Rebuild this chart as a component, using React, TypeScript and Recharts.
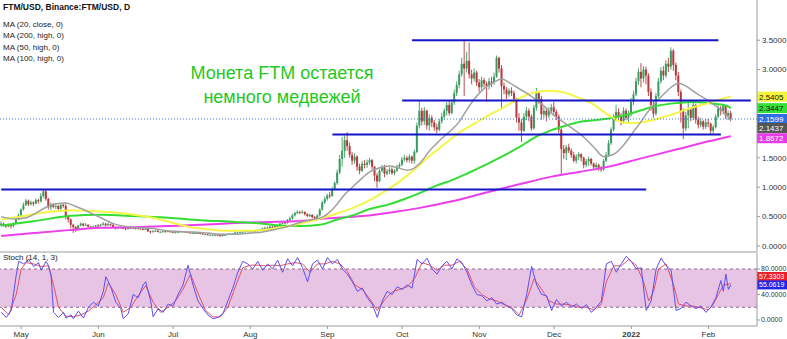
import React from "react";
import { Bar, ComposedChart, Line, ReferenceArea, ReferenceLine, XAxis, YAxis } from "recharts";

// daily candles, FTM/USD, from 2021-04-23
const START = Date.UTC(2021, 3, 23);
const DAYS = 304; // includes empty space at the right edge

const firstOpen = 0.36;
const closes = [
	0.38, 0.35, 0.33, 0.36, 0.34, 0.38, 0.45, 0.52, 0.62, 0.70,
	0.77, 0.71, 0.74, 0.72, 0.78, 0.76, 0.85, 0.93, 0.80, 0.66,
	0.70, 0.67, 0.68, 0.63, 0.70, 0.68, 0.50, 0.45, 0.36, 0.32,
	0.29, 0.35, 0.38, 0.35, 0.36, 0.33, 0.31, 0.33, 0.35, 0.34,
	0.36, 0.38, 0.35, 0.37, 0.36, 0.32, 0.30, 0.32, 0.31, 0.30,
	0.29, 0.31, 0.30, 0.31, 0.29, 0.30, 0.29, 0.28, 0.29, 0.25,
	0.24, 0.25, 0.26, 0.24, 0.24, 0.25, 0.24, 0.25, 0.24, 0.23,
	0.23, 0.24, 0.25, 0.24, 0.24, 0.23, 0.22, 0.22, 0.22, 0.22,
	0.21, 0.20, 0.20, 0.19, 0.19, 0.19, 0.19, 0.18, 0.17, 0.19,
	0.19, 0.20, 0.21, 0.21, 0.23, 0.23, 0.24, 0.24, 0.25, 0.25,
	0.24, 0.25, 0.25, 0.27, 0.28, 0.30, 0.31, 0.30, 0.33, 0.32,
	0.35, 0.34, 0.38, 0.40, 0.39, 0.44, 0.47, 0.52, 0.56, 0.58,
	0.57, 0.58, 0.54, 0.51, 0.53, 0.49, 0.47, 0.52, 0.62, 0.74,
	0.80, 0.86, 0.85, 0.97, 1.07, 1.25, 1.48, 1.62, 1.80, 1.70,
	1.55, 1.45, 1.52, 1.35, 1.28, 1.40, 1.38, 1.42, 1.46, 1.35,
	1.20, 1.10, 1.28, 1.34, 1.23, 1.27, 1.30, 1.24, 1.28, 1.35,
	1.38, 1.47, 1.50, 1.46, 1.52, 1.45, 1.60, 2.05, 2.30, 2.12,
	2.30, 2.05, 2.18, 2.10, 2.02, 1.98, 2.12, 2.20, 2.30, 2.40,
	2.26, 2.44, 2.60, 2.74, 2.92, 3.10, 3.02, 3.15, 2.92, 2.85,
	2.95, 2.78, 2.70, 2.82, 2.76, 2.72, 2.80, 2.78, 2.88, 3.20,
	3.02, 2.72, 2.66, 2.58, 2.64, 2.60, 2.50, 2.18, 2.10, 1.96,
	2.20, 2.30, 2.20, 2.00, 2.35, 2.60, 2.50, 2.24, 2.30, 2.22,
	2.30, 2.36, 2.28, 2.20, 1.98, 1.65, 1.58, 1.68, 1.62, 1.55,
	1.45, 1.52, 1.56, 1.50, 1.38, 1.44, 1.48, 1.40, 1.34, 1.38,
	1.33, 1.30, 1.45, 1.55, 1.75, 1.98, 2.18, 2.28, 2.20, 2.12,
	2.30, 2.18, 2.24, 2.45, 2.58, 2.80, 2.96, 2.85, 3.00, 2.90,
	2.62, 2.40, 2.25, 2.55, 2.80, 2.98, 2.90, 3.10, 3.05, 3.32,
	3.08, 2.90, 2.62, 2.30, 2.00, 2.22, 2.32, 2.18, 2.40, 2.15,
	2.06, 2.12, 2.03, 2.10, 2.08, 1.96, 2.02, 2.20, 2.34, 2.30,
	2.38, 2.22, 2.26, 2.16,
];
const highs = [
	0.42, 0.40, 0.37, 0.38, 0.37, 0.40, 0.47, 0.55, 0.64, 0.74,
	0.80, 0.79, 0.77, 0.76, 0.81, 0.80, 0.90, 0.97, 0.96, 0.82,
	0.74, 0.73, 0.72, 0.70, 0.73, 0.72, 0.72, 0.53, 0.47, 0.38,
	0.34, 0.36, 0.40, 0.39, 0.39, 0.37, 0.34, 0.35, 0.36, 0.37,
	0.38, 0.41, 0.39, 0.40, 0.38, 0.37, 0.33, 0.33, 0.33, 0.32,
	0.31, 0.32, 0.32, 0.32, 0.31, 0.31, 0.31, 0.30, 0.30, 0.29,
	0.26, 0.27, 0.27, 0.27, 0.25, 0.26, 0.26, 0.26, 0.26, 0.25,
	0.24, 0.25, 0.26, 0.25, 0.25, 0.25, 0.24, 0.23, 0.23, 0.23,
	0.23, 0.22, 0.21, 0.21, 0.20, 0.20, 0.20, 0.19, 0.19, 0.20,
	0.20, 0.21, 0.22, 0.22, 0.25, 0.24, 0.25, 0.25, 0.26, 0.26,
	0.26, 0.26, 0.26, 0.28, 0.29, 0.31, 0.33, 0.33, 0.34, 0.34,
	0.36, 0.36, 0.39, 0.42, 0.42, 0.46, 0.50, 0.55, 0.58, 0.61,
	0.60, 0.61, 0.59, 0.56, 0.55, 0.54, 0.51, 0.54, 0.64, 0.77,
	0.84, 0.89, 0.92, 1.00, 1.10, 1.30, 1.55, 1.85, 1.88, 1.94,
	1.76, 1.60, 1.58, 1.54, 1.40, 1.45, 1.46, 1.47, 1.50, 1.48,
	1.36, 1.24, 1.31, 1.38, 1.38, 1.31, 1.34, 1.34, 1.31, 1.38,
	1.42, 1.52, 1.55, 1.53, 1.56, 1.54, 1.64, 2.10, 2.48, 2.35,
	2.36, 2.32, 2.24, 2.22, 2.14, 2.08, 2.16, 2.26, 2.34, 2.45,
	2.48, 2.48, 2.66, 2.80, 2.98, 3.20, 3.49, 3.30, 3.46, 3.00,
	3.02, 2.98, 2.84, 2.88, 2.86, 2.80, 2.86, 2.88, 2.95, 3.24,
	3.22, 3.08, 2.78, 2.70, 2.68, 2.70, 2.64, 2.52, 2.26, 2.16,
	2.26, 2.36, 2.34, 2.24, 2.40, 2.69, 2.64, 2.55, 2.36, 2.33,
	2.36, 2.42, 2.45, 2.32, 2.24, 2.00, 1.72, 1.72, 1.74, 1.66,
	1.60, 1.56, 1.60, 1.58, 1.52, 1.48, 1.52, 1.50, 1.42, 1.42,
	1.40, 1.36, 1.48, 1.60, 1.80, 2.02, 2.24, 2.40, 2.34, 2.26,
	2.36, 2.34, 2.30, 2.52, 2.64, 2.86, 3.02, 3.11, 3.06, 3.05,
	2.94, 2.68, 2.48, 2.60, 2.86, 3.04, 3.06, 3.16, 3.20, 3.38,
	3.35, 3.12, 2.96, 2.66, 2.34, 2.28, 2.44, 2.36, 2.46, 2.42,
	2.20, 2.18, 2.14, 2.16, 2.16, 2.10, 2.06, 2.24, 2.40, 2.38,
	2.42, 2.40, 2.30, 2.30,
];
const lows = [
	0.33, 0.33, 0.31, 0.32, 0.30, 0.32, 0.37, 0.44, 0.50, 0.60,
	0.68, 0.68, 0.69, 0.68, 0.71, 0.72, 0.74, 0.82, 0.77, 0.62,
	0.61, 0.64, 0.63, 0.61, 0.62, 0.65, 0.45, 0.40, 0.30, 0.22,
	0.24, 0.28, 0.33, 0.33, 0.34, 0.31, 0.29, 0.30, 0.32, 0.32,
	0.33, 0.35, 0.33, 0.34, 0.34, 0.31, 0.28, 0.29, 0.30, 0.29,
	0.27, 0.28, 0.29, 0.29, 0.28, 0.28, 0.28, 0.27, 0.27, 0.24,
	0.21, 0.23, 0.24, 0.23, 0.23, 0.23, 0.23, 0.24, 0.23, 0.22,
	0.22, 0.22, 0.23, 0.23, 0.23, 0.22, 0.21, 0.21, 0.21, 0.21,
	0.20, 0.19, 0.19, 0.18, 0.18, 0.18, 0.18, 0.17, 0.16, 0.16,
	0.18, 0.19, 0.20, 0.20, 0.21, 0.21, 0.22, 0.23, 0.23, 0.24,
	0.23, 0.23, 0.24, 0.24, 0.26, 0.27, 0.29, 0.29, 0.29, 0.31,
	0.31, 0.32, 0.33, 0.37, 0.37, 0.38, 0.42, 0.45, 0.50, 0.54,
	0.54, 0.55, 0.52, 0.49, 0.49, 0.47, 0.45, 0.46, 0.50, 0.60,
	0.71, 0.77, 0.81, 0.84, 0.95, 1.04, 1.22, 1.35, 1.50, 1.62,
	1.50, 1.38, 1.40, 1.28, 1.22, 1.26, 1.32, 1.33, 1.38, 1.30,
	1.10, 0.99, 1.08, 1.25, 1.17, 1.20, 1.22, 1.21, 1.20, 1.26,
	1.31, 1.36, 1.44, 1.42, 1.42, 1.40, 1.40, 1.58, 2.00, 2.05,
	2.06, 1.98, 1.96, 2.02, 1.96, 1.92, 1.95, 2.08, 2.15, 2.22,
	2.22, 2.24, 2.40, 2.55, 2.68, 2.88, 2.55, 2.95, 2.85, 2.75,
	2.80, 2.72, 2.62, 2.66, 2.70, 2.45, 2.66, 2.70, 2.74, 2.86,
	2.95, 2.35, 2.58, 2.50, 2.54, 2.55, 2.44, 2.10, 1.96, 1.77,
	1.94, 2.14, 2.12, 1.96, 1.98, 2.30, 2.42, 2.15, 2.18, 2.12,
	2.18, 2.24, 2.22, 2.14, 1.92, 1.20, 1.48, 1.46, 1.58, 1.50,
	1.42, 1.40, 1.46, 1.44, 1.32, 1.34, 1.36, 1.37, 1.30, 1.30,
	1.28, 1.26, 1.28, 1.43, 1.52, 1.72, 1.95, 2.12, 2.14, 2.05,
	2.08, 2.14, 2.10, 2.20, 2.40, 2.55, 2.74, 2.70, 2.78, 2.75,
	2.55, 2.30, 2.18, 2.22, 2.52, 2.76, 2.82, 2.86, 2.96, 3.00,
	2.98, 2.82, 2.55, 2.10, 1.82, 1.95, 2.00, 2.12, 2.14, 2.08,
	2.00, 2.02, 1.98, 1.99, 2.02, 1.90, 1.89, 2.00, 2.18, 2.22,
	2.24, 2.16, 2.14, 2.12,
];

// moving averages: [day index, value]
const ma20Points = [
	[0, 0.5], [5, 0.46], [10, 0.48], [14, 0.56], [18, 0.66], [22, 0.72], [26, 0.73], [29, 0.69],
	[33, 0.62], [37, 0.54], [41, 0.46], [45, 0.38], [50, 0.33], [55, 0.31], [60, 0.3], [65, 0.27],
	[70, 0.25], [75, 0.24], [80, 0.23], [85, 0.21], [90, 0.2], [95, 0.2], [100, 0.22], [105, 0.24],
	[110, 0.28], [115, 0.33], [120, 0.4], [125, 0.45], [129, 0.49], [132, 0.58], [135, 0.72],
	[138, 0.88], [141, 1.0], [144, 1.12], [148, 1.26], [152, 1.33], [156, 1.36], [160, 1.32],
	[163, 1.29], [166, 1.33], [169, 1.45], [172, 1.62], [175, 1.75], [178, 1.87], [181, 1.98],
	[184, 2.12], [187, 2.32], [190, 2.5], [194, 2.68], [198, 2.79], [201, 2.84], [204, 2.78],
	[207, 2.7], [211, 2.6], [215, 2.48], [218, 2.38], [222, 2.22], [226, 2.1], [230, 1.98],
	[234, 1.85], [238, 1.68], [242, 1.52], [246, 1.56], [250, 1.72], [254, 1.95], [257, 2.12],
	[260, 2.3], [263, 2.45], [266, 2.58], [269, 2.7], [272, 2.77], [275, 2.72], [279, 2.6],
	[283, 2.5], [287, 2.38], [290, 2.28], [293, 2.1437],
];
const ma50Points = [
	[0, 0.45], [8, 0.5], [14, 0.55], [22, 0.59], [28, 0.61], [35, 0.6], [42, 0.58], [50, 0.55],
	[58, 0.5], [64, 0.45], [70, 0.38], [76, 0.32], [82, 0.29], [90, 0.26], [98, 0.26], [105, 0.27],
	[112, 0.31], [118, 0.36], [124, 0.42], [130, 0.49], [136, 0.57], [142, 0.66], [148, 0.78],
	[154, 0.93], [160, 1.1], [166, 1.3], [172, 1.53], [178, 1.73], [184, 1.93], [190, 2.08],
	[196, 2.23], [202, 2.36], [208, 2.51], [214, 2.61], [220, 2.64], [226, 2.61], [232, 2.52],
	[237, 2.43], [242, 2.28], [246, 2.17], [250, 2.1], [254, 2.09], [258, 2.11], [264, 2.17],
	[271, 2.26], [277, 2.35], [284, 2.43], [290, 2.51], [293, 2.5405],
];
const ma100Points = [
	[0, 0.35], [13, 0.42], [27, 0.51], [40, 0.53], [53, 0.51], [67, 0.48], [80, 0.44], [94, 0.41],
	[105, 0.38], [112, 0.35], [120, 0.34], [128, 0.36], [135, 0.45], [141, 0.52], [148, 0.63],
	[155, 0.7], [162, 0.8], [168, 0.9], [175, 1.03], [181, 1.12], [188, 1.25], [194, 1.37],
	[201, 1.52], [208, 1.68], [214, 1.84], [221, 1.97], [227, 2.05], [232, 2.11], [238, 2.14],
	[244, 2.17], [251, 2.23], [257, 2.31], [264, 2.39], [271, 2.43], [278, 2.45], [284, 2.43],
	[291, 2.39], [293, 2.3447],
];
const ma200Points = [
	[0, 0.17], [13, 0.22], [27, 0.27], [40, 0.31], [53, 0.32], [67, 0.34], [80, 0.36], [94, 0.39],
	[107, 0.41], [118, 0.42], [131, 0.47], [145, 0.51], [158, 0.58], [167, 0.64], [181, 0.76],
	[194, 0.9], [208, 1.05], [221, 1.18], [232, 1.26], [244, 1.35], [257, 1.49], [271, 1.64],
	[284, 1.78], [293, 1.8672],
];

// Stoch (14, 1, 3): [day index, value]
const stochK = [
	[0, 12], [2, 4], [4, 15], [6, 70], [7, 92], [9, 88], [11, 95], [13, 84], [15, 90], [16, 78],
	[18, 92], [19, 85], [20, 70], [21, 12], [23, 4], [25, 12], [26, 3], [28, 8], [29, 2], [31, 14],
	[33, 3], [35, 20], [37, 28], [39, 22], [41, 45], [42, 68], [44, 52], [46, 28], [48, 18], [49, 2],
	[51, 10], [53, 40], [55, 35], [57, 55], [58, 60], [60, 30], [61, 5], [63, 18], [65, 12], [67, 25],
	[69, 22], [71, 40], [73, 55], [75, 86], [77, 55], [79, 30], [81, 18], [83, 8], [85, 2], [87, 4],
	[89, 10], [91, 30], [93, 50], [95, 75], [97, 92], [99, 88], [101, 80], [103, 92], [105, 78],
	[107, 88], [109, 80], [111, 94], [113, 75], [115, 96], [117, 85], [119, 98], [121, 82], [123, 60],
	[125, 88], [127, 94], [129, 80], [131, 98], [133, 88], [135, 95], [137, 80], [139, 72], [141, 60],
	[143, 45], [145, 50], [147, 35], [149, 25], [151, 4], [153, 30], [155, 45], [157, 40], [159, 52],
	[161, 48], [163, 55], [165, 50], [167, 95], [169, 88], [171, 97], [173, 80], [175, 72], [177, 85],
	[179, 92], [181, 80], [183, 96], [185, 90], [187, 75], [189, 55], [191, 40], [193, 38], [195, 30],
	[197, 35], [199, 25], [201, 28], [203, 22], [205, 18], [207, 8], [209, 5], [211, 40], [213, 84],
	[215, 55], [217, 40], [219, 38], [221, 15], [223, 32], [225, 22], [227, 28], [229, 20], [231, 25],
	[233, 18], [235, 24], [237, 12], [239, 20], [241, 30], [243, 88], [245, 92], [247, 75], [249, 88],
	[251, 100], [253, 92], [255, 80], [257, 82], [259, 15], [261, 30], [263, 80], [265, 97], [267, 85],
	[269, 78], [271, 15], [273, 18], [275, 28], [277, 22], [279, 18], [281, 22], [283, 12], [285, 20],
	[287, 35], [289, 62], [290, 45], [291, 72], [292, 48], [293, 55.0619],
];
const stochD = [
	[0, 20], [3, 8], [6, 40], [8, 80], [10, 90], [13, 88], [16, 84], [19, 85], [21, 55], [23, 20],
	[26, 6], [29, 5], [32, 8], [35, 14], [38, 24], [41, 35], [43, 58], [46, 40], [49, 12], [52, 20],
	[55, 38], [58, 54], [61, 28], [64, 12], [67, 20], [70, 30], [73, 48], [76, 72], [79, 42], [82, 15],
	[85, 5], [88, 5], [91, 20], [94, 52], [97, 82], [100, 86], [103, 86], [106, 85], [109, 86],
	[112, 85], [115, 88], [118, 90], [121, 88], [124, 75], [127, 88], [130, 88], [133, 92], [136, 88],
	[139, 76], [142, 55], [145, 48], [148, 33], [151, 15], [154, 32], [157, 44], [160, 48], [163, 52],
	[166, 65], [169, 90], [172, 86], [175, 78], [178, 86], [181, 86], [184, 92], [187, 80], [190, 52],
	[193, 40], [196, 33], [199, 30], [202, 24], [205, 20], [208, 8], [211, 32], [214, 65], [217, 48],
	[220, 30], [223, 25], [226, 25], [229, 23], [232, 20], [235, 20], [238, 16], [241, 25], [243, 60],
	[246, 85], [249, 85], [252, 95], [255, 86], [258, 60], [260, 30], [262, 45], [264, 80], [267, 88],
	[270, 55], [272, 25], [275, 22], [278, 22], [281, 19], [284, 16], [286, 25], [288, 40], [290, 55],
	[292, 56], [293, 57.3303],
];

// horizontal levels drawn on the chart
const levelPrices = [3.5, 2.474, 1.896, 0.961];
const levelFrom = [165, 161, 133, 0];
const levelTo = [288, 301, 289, 259];

const monthTicks = [
	"2021-05-01", "2021-06-01", "2021-07-01", "2021-08-01", "2021-09-01",
	"2021-10-01", "2021-11-01", "2021-12-01", "2022-01-01", "2022-02-01",
];
const monthLabels = ["May", "Jun", "Jul", "Aug", "Sep", "Oct", "Nov", "Dec", "2022", "Feb"];

const priceTicks = [0, 0.5, 1, 1.5, 3, 3.5];
const stochTicks = [0, 40, 80];

const lastPrice = 2.1599;
const priceTagValues = [2.5405, 2.3447, 2.1437, 1.8672];
const priceTagStyles = [
	{ bg: "#f4f43a", fg: "#111", shift: 0 },
	{ bg: "#35e035", fg: "#111", shift: 0 },
	{ bg: "#555555", fg: "#fff", shift: 8 },
	{ bg: "#e63ce6", fg: "#fff", shift: 2 },
];
const stochTagValues = [57.3303, 55.0619];
const stochTagStyles = [
	{ bg: "#e8202a", fg: "#fff", shift: -7, size: 7, h: 9 },
	{ bg: "#2525e6", fg: "#fff", shift: 0, size: 7, h: 9 },
];

const UP = "#3a9b60";
const DOWN = "#b5393c";
const LEVEL = "#1414c8";
const FONT = "'Liberation Sans', Arial, sans-serif";

const dates = Array.from({ length: DAYS }, (_, i) =>
	new Date(START + i * 86400000).toISOString().slice(0, 10),
);

const rows: any[] = dates.map((date, i) => {
	const has = i < closes.length;
	return {
		date,
		o: has ? (i === 0 ? firstOpen : closes[i - 1]) : null,
		h: has ? highs[i] : null,
		l: has ? lows[i] : null,
		c: has ? closes[i] : null,
		range: has ? [lows[i], highs[i]] : null,
		ma20: null,
		ma50: null,
		ma100: null,
		ma200: null,
		k: null,
		d: null,
	};
});
const fill = (key: string, pts: number[][]) => {
	for (const [i, v] of pts) rows[i][key] = v;
};
fill("ma20", ma20Points);
fill("ma50", ma50Points);
fill("ma100", ma100Points);
fill("ma200", ma200Points);
fill("k", stochK);
fill("d", stochD);

function Candle(props: any) {
	const { x, y, width, height, payload } = props;
	if (!payload || payload.o == null || !Number.isFinite(y)) return null;
	const { o, h, l, c } = payload;
	const k = height / Math.max(h - l, 1e-6);
	const yOf = (v: number) => y + (h - v) * k;
	const color = c >= o ? UP : DOWN;
	const cx = x + width / 2;
	const top = yOf(Math.max(o, c));
	const bot = yOf(Math.min(o, c));
	const bw = Math.max(1.6, width);
	return (
		<g>
			<line x1={cx} x2={cx} y1={y} y2={y + height} stroke={color} strokeWidth={0.9} />
			<rect x={cx - bw / 2} y={top} width={bw} height={Math.max(0.9, bot - top)} fill={color} />
		</g>
	);
}

function Tag({ viewBox, text, bg, fg, shift, size = 8, h = 10 }: any) {
	if (!viewBox) return null;
	const x = viewBox.x + viewBox.width;
	const y = viewBox.y + shift;
	return (
		<g>
			<rect x={x} y={y - h / 2} width={31} height={h} fill={bg} />
			<text x={x + 2} y={y + size * 0.36} fontSize={size} fill={fg} fontFamily={FONT}>
				{text}
			</text>
		</g>
	);
}

function MonthTick({ x, y, payload }: any) {
	const idx = monthTicks.indexOf(payload.value);
	const label = monthLabels[idx] ?? "";
	return (
		<text
			x={x}
			y={y + 6}
			textAnchor="middle"
			fontSize={8}
			fill="#333"
			fontFamily={FONT}
			fontWeight={label === "2022" ? "bold" : "normal"}
		>
			{label}
		</text>
	);
}

const axisStroke = "#9a9a9a";
const yTick = { fontSize: 8, fill: "#333", fontFamily: FONT };
const stochTick = { fontSize: 7, fill: "#333", fontFamily: FONT };

export default function App() {
	return (
		<div
			style={{
				position: "absolute",
				left: 0,
				top: 0,
				width: 787,
				height: 339,
				background: "#fff",
				overflow: "hidden",
				fontFamily: FONT,
			}}
		>
			<ComposedChart width={787} height={253} data={rows} margin={{ top: 0, right: 0, bottom: 0, left: 0 }}>
				<XAxis
					dataKey="date"
					scale="band"
					tick={false}
					tickLine={false}
					height={1}
					axisLine={{ stroke: axisStroke }}
				/>
				<YAxis
					orientation="right"
					width={30}
					type="number"
					domain={[-0.102, 4.184]}
					allowDataOverflow
					ticks={priceTicks}
					tickFormatter={(v: number) => v.toFixed(4)}
					tick={yTick}
					tickSize={3}
					tickMargin={2}
					axisLine={{ stroke: axisStroke }}
					tickLine={{ stroke: axisStroke }}
				/>
				<Bar dataKey="range" barSize={2} shape={<Candle />} isAnimationActive={false} />
				<Line type="monotone" dataKey="ma200" stroke="#ec3fec" strokeWidth={2} dot={false} activeDot={false} connectNulls isAnimationActive={false} />
				<Line type="monotone" dataKey="ma100" stroke="#33dd33" strokeWidth={2} dot={false} activeDot={false} connectNulls isAnimationActive={false} />
				<Line type="monotone" dataKey="ma50" stroke="#f5f545" strokeWidth={2} dot={false} activeDot={false} connectNulls isAnimationActive={false} />
				<Line type="monotone" dataKey="ma20" stroke="#a0a0a0" strokeWidth={1.5} dot={false} activeDot={false} connectNulls isAnimationActive={false} />
				{levelPrices.map((p, i) => (
					<ReferenceLine
						key={`lvl-${i}`}
						segment={[
							{ x: dates[levelFrom[i]], y: p },
							{ x: dates[levelTo[i]], y: p },
						]}
						stroke={LEVEL}
						strokeWidth={2}
					/>
				))}
				<ReferenceLine
					y={lastPrice}
					stroke="#3b6fe0"
					strokeDasharray="1 2"
					label={<Tag text={lastPrice.toFixed(4)} bg="#2f6de0" fg="#fff" shift={0} />}
				/>
				{priceTagValues.map((v, i) => (
					<ReferenceLine
						key={`tag-${i}`}
						y={v}
						stroke="none"
						label={<Tag text={v.toFixed(4)} {...priceTagStyles[i]} />}
					/>
				))}
			</ComposedChart>
			<ComposedChart width={787} height={86} data={rows} margin={{ top: 0, right: 0, bottom: 0, left: 0 }}>
				<XAxis
					dataKey="date"
					scale="band"
					ticks={monthTicks}
					interval={0}
					height={13}
					tickSize={3}
					tick={<MonthTick />}
					axisLine={{ stroke: axisStroke }}
					tickLine={{ stroke: axisStroke }}
				/>
				<YAxis
					orientation="right"
					width={30}
					type="number"
					domain={[-9.4, 105.1]}
					allowDataOverflow
					ticks={stochTicks}
					tickFormatter={(v: number) => v.toFixed(4)}
					tick={stochTick}
					tickSize={3}
					tickMargin={1}
					axisLine={{ stroke: axisStroke }}
					tickLine={{ stroke: axisStroke }}
				/>
				<ReferenceArea y1={20} y2={80} fill="#e7c3e4" fillOpacity={1} stroke="none" />
				<ReferenceLine y={80} stroke="#8c6b8c" strokeDasharray="3 3" />
				<ReferenceLine y={20} stroke="#8c6b8c" strokeDasharray="3 3" />
				<Line type="linear" dataKey="d" stroke="#e4506a" strokeWidth={1} dot={false} activeDot={false} connectNulls isAnimationActive={false} />
				<Line type="linear" dataKey="k" stroke="#5b4ff0" strokeWidth={1} dot={false} activeDot={false} connectNulls isAnimationActive={false} />
				{stochTagValues.map((v, i) => (
					<ReferenceLine
						key={`stag-${i}`}
						y={v}
						stroke="none"
						label={<Tag text={v.toFixed(4)} {...stochTagStyles[i]} />}
					/>
				))}
			</ComposedChart>

			<div style={{ position: "absolute", left: 3, top: 2, fontSize: 8.5, fontWeight: "bold", color: "#111", lineHeight: "10px" }}>
				FTM/USD, Binance:FTM/USD, D
			</div>
			<div style={{ position: "absolute", left: 3, top: 19, fontSize: 8, color: "#222", lineHeight: "11.3px" }}>
				<div>MA (20, close, 0)</div>
				<div>MA (200, high, 0)</div>
				<div>MA (50, high, 0)</div>
				<div>MA (100, high, 0)</div>
			</div>
			<div
				style={{
					position: "absolute",
					left: 182,
					top: 61,
					width: 200,
					textAlign: "center",
					fontSize: 18,
					color: "#1fc81f",
					lineHeight: "24px",
				}}
			>
				<div>Монета FTM остается</div>
				<div>немного медвежей</div>
			</div>
			<div style={{ position: "absolute", left: 3, top: 253, fontSize: 8, color: "#222", lineHeight: "10px" }}>
				Stoch (14, 1, 3)
			</div>
		</div>
	);
}
